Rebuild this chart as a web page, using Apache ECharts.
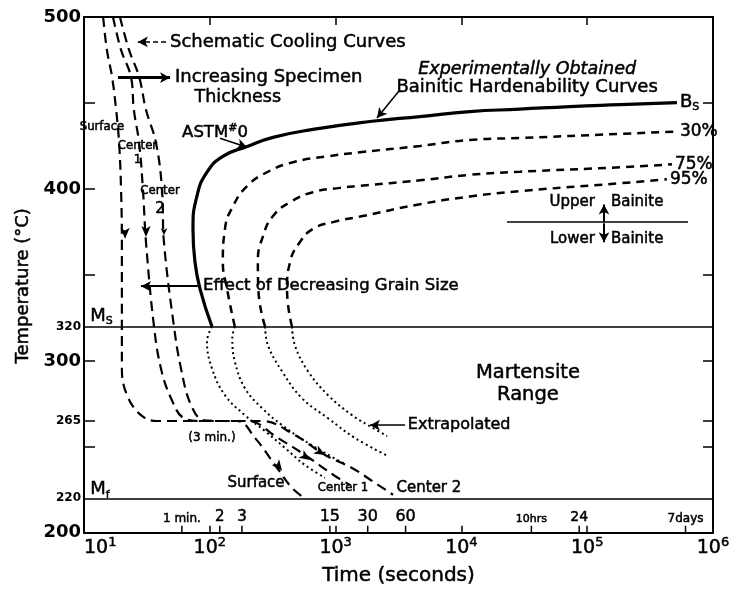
<!DOCTYPE html>
<html>
<head>
<meta charset="utf-8">
<script src="https://cdn.jsdelivr.net/npm/echarts@6/dist/echarts.min.js"></script>
<style>
html, body { margin: 0; padding: 0; background: #fff; }
#main { width: 738px; height: 591px; }
</style>
</head>
<body>
<div id="main"></div>
<script>
// bainitic hardenability curves, time in seconds / temperature in C
var bsTime  = [104, 83.6, 76.2, 73.5, 79, 95, 127, 198, 318, 661, 1876, 4690, 11700, 29200, 72900, 182000, 517000];
var bsTemp  = [320, 341.9, 357.6, 376.7, 395.8, 409.7, 418.9, 424.7, 430, 434.6, 439.2, 442.1, 445, 446.4, 447.9, 449, 450.2];
var p30Time = [158, 137, 127, 132, 153, 198, 285, 458, 855, 1563, 4690, 11700, 29200, 182000, 517000];
var p30Temp = [320, 341.9, 357.6, 376.7, 390, 401.6, 409.7, 415.5, 418.9, 421.3, 425, 428.5, 429.6, 432, 433.4];
var p75Time = [275, 243, 241, 265, 318, 435, 661, 1084, 1563, 4690, 11700, 29200, 182000, 472000];
var p75Temp = [320, 341.9, 357.6, 372.6, 384.2, 392.3, 398.1, 400.6, 401.8, 405, 408.2, 410, 412.6, 414.3];
var p95Time = [450, 411, 435, 521, 661, 953, 1563, 4690, 11700, 29200, 182000, 430000];
var p95Temp = [320, 341.9, 357.6, 369.1, 376.7, 380.7, 383.9, 391.1, 395.6, 398.7, 403.3, 405.6];

// extrapolated parts below Ms
var bsExtTime  = [104, 95, 104, 132, 190, 275, 396, 571, 824];
var bsExtTemp  = [320, 311.2, 295.6, 280, 268.4, 259.1, 249.3, 239.4, 231.9];
var p30ExtTime = [158, 151, 158, 190, 260, 375, 541, 824, 1189];
var p30ExtTemp = [320, 313, 299.7, 284.1, 272.5, 262.6, 254.5, 246.4, 240];
var p75ExtTime = [275, 290, 375, 541, 871, 1426, 2519];
var p75ExtTemp = [320, 308.9, 293.9, 278.2, 266.6, 255.1, 245.2];
var p95ExtTime = [450, 475, 604, 871, 1349, 1811, 2566];
var p95ExtTemp = [320, 308.9, 293.9, 280, 268.4, 262.6, 256.2];

// schematic cooling curves
var surfTime = [14.2, 15.2, 16.7, 18.0, 19.0, 19.7, 20, 20, 20, 22, 28.4, 38, 164, 229, 330, 450, 571];
var surfTemp = [500, 480.9, 465.3, 446.1, 427, 399.8, 369.1, 320, 295.6, 280, 268.4, 265, 265, 255.1, 239.4, 226.1, 220];
var c1Time = [17.0, 19.7, 23.6, 24.9, 27.4, 29.4, 31.1, 36.0, 40.9, 49.2, 62.4, 85, 200, 348, 571, 989, 1300];
var c1Temp = [500, 480.9, 465.3, 446.1, 427, 399.8, 369.1, 320, 295.6, 278.2, 266.6, 265, 265, 255.1, 245.2, 233, 227.8];
var c2Time = [19.3, 22.8, 27.4, 31.1, 37.3, 41.7, 43.2, 51.9, 59, 71, 90, 130, 260, 475, 824, 1349, 1945, 2860];
var c2Temp = [500, 480.9, 465.3, 446.1, 427, 399.8, 369.1, 320, 295.6, 274.2, 265.4, 265, 265, 256.8, 245.2, 237.7, 230.2, 222.1];

var msTemp = 320;
var mfTemp = 220;
var tempTicks  = [250, 265, 300, 350, 400, 450];
var tempTicksR = [250, 265, 300, 350, 450];
var tempLabels = [200, 220, 265, 300, 320, 400, 500];
var bigLabels  = [200, 300, 400, 500];
var timeMarks      = [60, 120, 180, 900, 1800, 3600, 36000, 86400, 604800];
var timeMarkLabels = ['1 min.', '2', '3', '15', '30', '60', '10hrs', '24', '7days'];

var ink = '#000';
var ff = 'DejaVu Sans';
var timeMarkFont = [12, 15, 15, 16, 16, 16, 11, 14, 12];
var heavy = { textBorderColor: ink, textBorderWidth: 0.5 };

function pairs(xs, ys) {
    return xs.map(function (x, i) { return [x, ys[i]]; });
}

function tok(size, extra) {
    return Object.assign({ fontFamily: ff, fontSize: size, color: ink }, heavy, extra || {});
}

function curve(name, xs, ys, width, dash, endText, smooth) {
    var s = {
        name: name, type: 'line', data: pairs(xs, ys),
        smooth: smooth || 0.4, symbol: 'none', silent: true, z: 3,
        lineStyle: { color: ink, width: width, type: dash }
    };
    if (endText) {
        s.endLabel = Object.assign({
            show: true, formatter: endText, distance: 3,
            color: ink, fontFamily: ff, fontSize: 17,
            rich: {
                m: tok(18, { lineHeight: 20 }),
                s: tok(11, { lineHeight: 11, verticalAlign: 'bottom' })
            }
        }, heavy);
    }
    return s;
}

var subRich = {
    m: tok(18, { lineHeight: 22 }),
    s: tok(11, { lineHeight: 11, verticalAlign: 'bottom' }),
    sup: tok(11, { lineHeight: 11, verticalAlign: 'top' }),
    a: tok(16.5, { lineHeight: 20 })
};

// text notes, placed in data coordinates
var notes = [
    [48.3, 485, 'Schematic Cooling Curves', 'left', 18],
    [52.9, 464.7, 'Increasing Specimen', 'left', 18],
    [167, 453.2, 'Thickness', 'center', 17.5],
    [13.9, 436.3, 'Surface', 'center', 13, 'DejaVu Sans Condensed'],
    [26.6, 425, 'Center', 'center', 13, 'DejaVu Sans Condensed'],
    [26.6, 417, '1', 'center', 12],
    [40.2, 399, 'Center', 'center', 13, 'DejaVu Sans Condensed'],
    [40.2, 388.5, '2', 'center', 15],
    [110, 432.8, '{a|ASTM}{sup|#}{a|0}', 'center', 16.5],
    [33300, 469.3, 'Experimentally Obtained', 'center', 17.5, null, 'italic'],
    [33300, 458.9, 'Bainitic Hardenability Curves', 'center', 18],
    [88.3, 343.7, 'Effect of Decreasing Grain Size', 'left', 16.5],
    [11.2, 326, '{m|M}{s|S}', 'left', 18],
    [11.2, 225, '{m|M}{s|f}', 'left', 18],
    [33800, 292.7, 'Martensite', 'center', 19.5],
    [33800, 280, 'Range', 'center', 19.5],
    [3750, 262.6, 'Extrapolated', 'left', 16],
    [104, 255, '(3 min.)', 'center', 12],
    [233, 229, 'Surface', 'center', 15],
    [1146, 226.1, 'Center 1', 'center', 13, 'DejaVu Sans Condensed'],
    [5520, 226.1, 'Center 2', 'center', 15],
    [115000, 392.3, 'Upper', 'right', 15],
    [154500, 392.3, 'Bainite', 'left', 15],
    [115000, 370.9, 'Lower', 'right', 15],
    [154500, 370.9, 'Bainite', 'left', 15]
];

var noteData = notes.map(function (n) {
    return {
        value: [n[0], n[1]],
        label: Object.assign({
            show: true, position: [0, 0], align: n[3], verticalAlign: 'middle',
            formatter: n[2], color: ink, fontSize: n[4], opacity: 1,
            fontFamily: n[5] || ff, fontStyle: n[6] || 'normal',
            rich: subRich
        }, heavy)
    };
});

// annotation arrows [from, to]
var arrows = [
    [[44.9, 485.5], [26.8, 485.5], 1.5, [5, 3]],
    [[18.6, 464.7], [48.3, 464.7], 3, 'solid'],
    [[120.5, 429.5], [198, 424.2], 1.5, 'solid'],
    [[3250, 457.7], [2133, 441.2], 1.5, 'solid'],
    [[80.5, 343.4], [28.4, 343.4], 2, 'solid'],
    [[3565, 262.6], [1876, 262.6], 1.5, 'solid'],
    [[136000, 381], [136000, 391], 2, 'solid'],
    [[136000, 380], [136000, 369], 2, 'solid']
];
var arrowData = arrows.map(function (a) {
    return [
        { coord: a[0], symbol: 'none', lineStyle: { color: ink, width: a[2], type: a[3] } },
        { coord: a[1], symbol: 'arrow', symbolSize: [8, 10] }
    ];
});
arrowData.push([
    { coord: [23060, 380.7], symbol: 'none', lineStyle: { color: ink, width: 1.5, type: 'solid' } },
    { coord: [632000, 380.7], symbol: 'none' }
]);

var cooling = { width: 2.2, dash: [10, 6] };
var dotted = [2, 3.2];

function arrowMarks(list) {
    return {
        silent: true, label: { show: false }, itemStyle: { color: ink, opacity: 1 },
        data: list.map(function (p) {
            return { coord: [p[0], p[1]], symbol: 'arrow', symbolSize: p[3] || [7, 11], symbolRotate: p[2] };
        })
    };
}

var option = {
    animation: false,
    backgroundColor: '#fff',
    textStyle: { fontFamily: ff, color: ink },
    grid: { left: 84, right: 25, top: 17, bottom: 56 },
    xAxis: [{
        type: 'log', logBase: 10, min: 10, max: 1000000, position: 'bottom',
        name: 'Time (seconds)', nameLocation: 'middle', nameGap: 33,
        nameTextStyle: Object.assign({ fontFamily: ff, fontSize: 20, color: ink }, heavy),
        axisLine: { show: true, lineStyle: { color: ink, width: 2 } },
        axisTick: { show: true, inside: true, length: 7, lineStyle: { color: ink, width: 1.5 } },
        splitLine: { show: false },
        minorTick: { show: false },
        axisLabel: {
            margin: 3, alignMinLabel: 'left',
            formatter: function (v) {
                return '{b|10}{s|' + Math.round(Math.log10(v)) + '}';
            },
            rich: {
                b: tok(19, { lineHeight: 24 }),
                s: tok(13, { lineHeight: 13, verticalAlign: 'top' })
            }
        }
    }, {
        type: 'log', logBase: 10, min: 10, max: 1000000, position: 'top',
        axisLine: { show: true, lineStyle: { color: ink, width: 2 } },
        axisTick: { show: true, inside: true, length: 8, lineStyle: { color: ink, width: 1.5 } },
        axisLabel: { show: false },
        splitLine: { show: false }
    }],
    yAxis: [{
        type: 'value', min: 200, max: 500, position: 'left',
        name: 'Temperature (°C)', nameLocation: 'middle', nameGap: 52, nameRotate: 90,
        nameTextStyle: Object.assign({ fontFamily: ff, fontSize: 18, color: ink, padding: [0, 22, 0, 0] }, heavy),
        axisLine: { show: true, lineStyle: { color: ink, width: 2 } },
        axisTick: { show: true, inside: true, length: 11, customValues: tempTicks,
            lineStyle: { color: ink, width: 1.5 } },
        splitLine: { show: false },
        axisLabel: {
            margin: 3, customValues: tempLabels,
            formatter: function (v) {
                return bigLabels.indexOf(v) >= 0 ? '{big|' + v + '}' : '{small|' + v + '}';
            },
            rich: {
                big: { fontFamily: ff, fontSize: 18, fontWeight: 'bold', color: ink },
                small: { fontFamily: ff, fontSize: 12, fontWeight: 'bold', color: ink }
            }
        }
    }, {
        type: 'value', min: 200, max: 500, position: 'right',
        axisLine: { show: true, lineStyle: { color: ink, width: 2 } },
        axisTick: { show: true, inside: true, length: 10, customValues: tempTicksR,
            lineStyle: { color: ink, width: 1.5 } },
        axisLabel: { show: false },
        splitLine: { show: false }
    }],
    series: [
        curve('Bs', bsTime, bsTemp, 3.2, 'solid', '{m|B}{s|S}', 0.5),
        curve('30%', p30Time, p30Temp, 2.5, [8, 6], '30%', 0.5),
        curve('75%', p75Time, p75Temp, 2.5, [8, 6], '75%', 0.5),
        curve('95%', p95Time, p95Temp, 2.5, [8, 6], '95%', 0.5),
        curve('Bs ext', bsExtTime, bsExtTemp, 2, dotted),
        curve('30% ext', p30ExtTime, p30ExtTemp, 2, dotted),
        curve('75% ext', p75ExtTime, p75ExtTemp, 2, dotted),
        curve('95% ext', p95ExtTime, p95ExtTemp, 2, dotted),
        Object.assign(curve('Surface', surfTime, surfTemp, cooling.width, cooling.dash), {
            markPoint: arrowMarks([[21.2, 371, 180], [375, 236, -143]])
        }),
        Object.assign(curve('Center 1', c1Time, c1Temp, cooling.width, cooling.dash), {
            markPoint: arrowMarks([[31.1, 372, 180], [627, 242.3, -124]])
        }),
        Object.assign(curve('Center 2', c2Time, c2Temp, cooling.width, cooling.dash), {
            markPoint: arrowMarks([[43.2, 373, 180, [5, 7]], [824, 245.2, -120]])
        }),
        {
            name: 'notes', type: 'scatter', data: noteData, symbolSize: 0, silent: true, z: 5,
            itemStyle: { opacity: 1 },
            markLine: {
                silent: true, symbol: ['none', 'arrow'], symbolSize: [0, 10],
                label: { show: false }, animation: false,
                data: arrowData
            }
        },
        {
            name: 'lines', type: 'scatter', data: [[10, 200]], symbolSize: 0, silent: true,
            itemStyle: { opacity: 1 },
            markLine: {
                silent: true, symbol: ['none', 'none'], label: { show: false },
                lineStyle: { color: ink, width: 1.6, type: 'solid' },
                data: [{ yAxis: msTemp }, { yAxis: mfTemp }]
            }
        },
        {
            name: 'time marks', type: 'scatter', silent: true, z: 4,
            symbol: 'rect', symbolSize: [1.5, 7], symbolOffset: [0, -3.5],
            itemStyle: { color: ink, opacity: 1 },
            data: timeMarks.map(function (t, i) {
                return {
                    value: [t, 200], name: timeMarkLabels[i],
                    label: { fontSize: timeMarkFont[i] }
                };
            }),
            label: Object.assign({
                show: true, position: 'top', distance: 1, formatter: '{b}',
                fontFamily: ff, fontSize: 12, color: ink, opacity: 1
            }, heavy)
        }
    ]
};

var chart = echarts.init(document.getElementById('main'));
chart.setOption(option);
</script>
</body>
</html>
